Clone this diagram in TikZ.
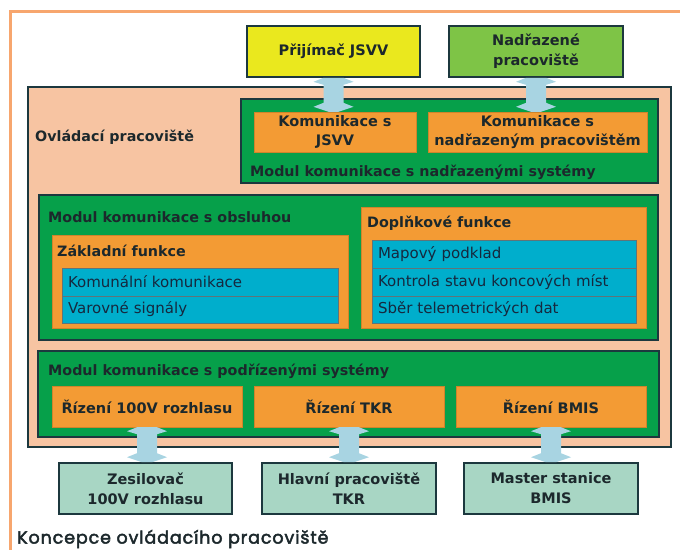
\documentclass[tikz,border=0pt]{standalone}
\usepackage{fontspec}
\setmainfont{DejaVu Sans}
\newfontfamily\capfont{Poppins}[FakeBold=2.6,LetterSpace=5]
\usetikzlibrary{calc}
\definecolor{frameor}{RGB}{247,166,110}
\definecolor{peach}{RGB}{247,196,162}
\definecolor{modgreen}{RGB}{6,160,74}
\definecolor{boxor}{RGB}{243,155,52}
\definecolor{itemblue}{RGB}{0,174,204}
\definecolor{yel}{RGB}{234,232,30}
\definecolor{ltgreen}{RGB}{126,196,70}
\definecolor{tealbox}{RGB}{168,214,196}
\definecolor{arrblue}{RGB}{168,212,226}
\definecolor{edge}{RGB}{28,56,62}
\definecolor{txt}{RGB}{28,40,44}
\definecolor{itemtxt}{RGB}{22,40,62}
\newcommand\blockarrow[2]{%
  \fill[arrblue] let \p1=(#1.south), \p2=(#2.north) in
    (\x1-10pt,\y1) -- (\x1+10pt,\y1) -- (\x1+20pt,\y1-4pt) -- (\x1+10pt,\y1-7pt)
    -- (\x1+10pt,\y2+9pt) -- (\x1+20pt,\y2+5pt) -- (\x1+5pt,\y2) -- (\x1-5pt,\y2)
    -- (\x1-20pt,\y2+5pt) -- (\x1-10pt,\y2+9pt) -- (\x1-10pt,\y1-7pt)
    -- (\x1-20pt,\y1-4pt) -- cycle;}
\begin{document}
\begin{tikzpicture}[x=1pt,y=-1pt,
  box/.style={draw=edge, line width=1.6pt, inner sep=0pt, align=center, text=txt,
    font=\fontsize{14.5}{20}\selectfont\bfseries, minimum height=51pt},
  peachbox/.style={draw=edge, line width=1.5pt, fill=peach, inner sep=0pt},
  module/.style={draw=edge, line width=1.3pt, fill=modgreen, inner sep=0pt},
  orbox/.style={fill=boxor, draw=boxor!85!black, line width=0.4pt, inner sep=0pt,
    align=center, text=txt, font=\fontsize{14.5}{19.5}\selectfont\bfseries},
  item/.style={fill=itemblue, draw=edge!70, line width=0.6pt, inner xsep=6pt, inner ysep=0pt,
    align=left, text=itemtxt, font=\fontsize{15}{17}\selectfont, minimum height=28pt},
  lbl/.style={anchor=west, inner sep=0pt, text=txt, font=\fontsize{14.3}{17}\selectfont\bfseries}
]
\useasboundingbox (0,0) rectangle (680,549);
\fill[white] (0,0) rectangle (680,549);
\draw[frameor, line width=3pt] (10,552) -- (10,11.5) -- (683,11.5);

% main workstation
\node[peachbox, minimum width=643pt, minimum height=360pt] (ovl) at (349.5,267) {};
\node[lbl] (ovlL) at (35,137) {Ovládací pracoviště};

% upper module
\node[module, minimum width=417pt, minimum height=84pt] (modN) at (449.5,141) {};
\node[orbox, minimum width=162pt, minimum height=40pt] (komJ) at (335,132) {Komunikace s\\JSVV};
\node[orbox, minimum width=219pt, minimum height=40pt] (komN) at (537.5,132) {Komunikace s\\nadřazeným pracovištěm};
\node[lbl] (modNL) at (250,172) {Modul komunikace s nadřazenými systémy};

% operator module
\node[module, minimum width=619pt, minimum height=145pt] (modO) at (348.5,267.5) {};
\node[lbl] (modOL) at (48,217) {Modul komunikace s obsluhou};
\node[orbox, minimum width=296pt, minimum height=93pt] (zakl) at (200,281.5) {};
\node[lbl] (zaklL) at (57,251) {Základní funkce};
\node[item, text width=264pt] (z1) at (200,282) {Komunální komunikace};
\node[item, text width=264pt, minimum height=27pt] (z2) at (200,309.5) {Varovné signály};
\node[orbox, minimum width=285pt, minimum height=121pt] (dopl) at (503.5,267.5) {};
\node[lbl] (doplL) at (367,223) {Doplňkové funkce};
\node[item, text width=252pt] (d1) at (504,254) {Mapový podklad};
\node[item, text width=252pt] (d2) at (504,282) {Kontrola stavu koncových míst};
\node[item, text width=252pt, minimum height=27pt] (d3) at (504,309.5) {Sběr telemetrických dat};

% lower module
\node[module, minimum width=621pt, minimum height=86pt] (modP) at (348.5,394) {};
\node[lbl] (modPL) at (48,371) {Modul komunikace s podřízenými systémy};
\node[orbox, minimum width=190pt, minimum height=41pt] (r1) at (147,406.5) {Řízení 100V rozhlasu};
\node[orbox, minimum width=190pt, minimum height=41pt] (r2) at (349,406.5) {Řízení TKR};
\node[orbox, minimum width=190pt, minimum height=41pt] (r3) at (551,406.5) {Řízení BMIS};

% external systems
\node[box, fill=yel, minimum width=173pt] (prij) at (333.5,51.5) {Přijímač JSVV};
\node[box, fill=ltgreen, minimum width=174pt] (nadr) at (536,51.5) {Nadřazené\\pracoviště};
\node[box, fill=tealbox, minimum width=173pt] (zes) at (145.5,488.5) {Zesilovač\\100V rozhlasu};
\node[box, fill=tealbox, minimum width=174pt] (hlav) at (349,488.5) {Hlavní pracoviště\\TKR};
\node[box, fill=tealbox, minimum width=174pt] (mast) at (551,488.5) {Master stanice\\BMIS};

% connectors
\blockarrow{prij}{komJ}
\blockarrow{nadr}{komN}
\blockarrow{r1}{zes}
\blockarrow{r2}{hlav}
\blockarrow{r3}{mast}

% caption
\node[anchor=west, inner sep=0pt, text=txt, font=\capfont\fontsize{17.5}{20}\selectfont] (cap) at (17,539) {Koncepce ovládacího pracoviště};
\end{tikzpicture}
\end{document}
